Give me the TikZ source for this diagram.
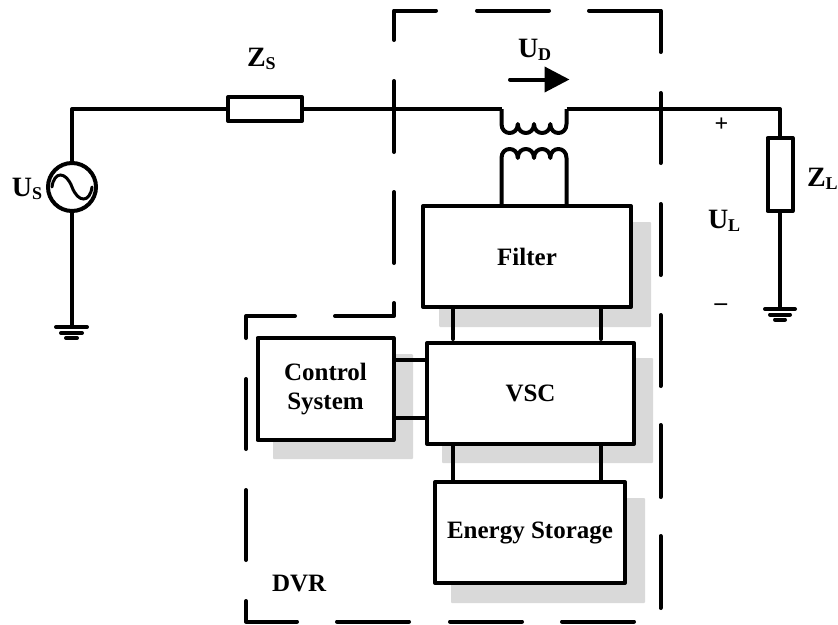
\documentclass[tikz,border=0pt]{standalone}
\usepackage{fontspec}
\setmainfont{Liberation Serif}
\usetikzlibrary{arrows.meta}
\definecolor{shadowgray}{HTML}{D9D9D9}
\newcommand{\lbl}[2]{\fontsize{28}{28}\selectfont\bfseries #1\raisebox{-3pt}{\fontsize{18}{18}\selectfont\bfseries #2}}
\tikzset{
  wire/.style={line width=4pt,line join=round},
  dashbit/.style={line width=4pt,line cap=round,line join=round},
  unit/.style={draw,fill=white,line width=4pt,line join=round,inner sep=0pt,outer sep=0pt,align=center,font=\fontsize{25}{29}\selectfont\bfseries},
  shade box/.style={fill=shadowgray,rounded corners=1pt},
  imped/.style={draw,fill=white,line width=4pt,line join=round,inner sep=0pt,outer sep=0pt},
  txt/.style={inner sep=0pt,outer sep=0pt,anchor=base west},
  gnd/.style={line width=4pt,line cap=round}
}
\begin{document}
\begin{tikzpicture}[x=1pt,y=-1pt]
\useasboundingbox (0,0) rectangle (838,624);
% shadows
\fill[shade box] (439,222) rectangle (651,327);
\fill[shade box] (442,358) rectangle (653,463);
\fill[shade box] (273,354) rectangle (413,459);
\fill[shade box] (451,498) rectangle (645,603);
% DVR dashed border
\draw[dashbit] (394,40) -- (394,10.5) -- (436,10.5);
\draw[dashbit] (477,10.5) -- (549,10.5);
\draw[dashbit] (589,10.5) -- (660.5,10.5) -- (660.5,52);
\draw[dashbit] (660.5,93) -- (660.5,163);
\draw[dashbit] (660.5,204) -- (660.5,275);
\draw[dashbit] (660.5,315) -- (660.5,386);
\draw[dashbit] (660.5,425) -- (660.5,497);
\draw[dashbit] (660.5,536) -- (660.5,608);
\draw[dashbit] (394,81) -- (394,152);
\draw[dashbit] (394,192) -- (394,263);
\draw[dashbit] (394,303) -- (394,316) -- (335,316);
\draw[dashbit] (295,316) -- (246,316) -- (246,338);
\draw[dashbit] (246,379) -- (246,449);
\draw[dashbit] (246,490) -- (246,560);
\draw[dashbit] (246,601) -- (246,621.5) -- (297,621.5);
\draw[dashbit] (337,621.5) -- (409,621.5);
\draw[dashbit] (450,621.5) -- (522,621.5);
\draw[dashbit] (562,621.5) -- (634,621.5);
% blocks
\node[unit,minimum width=208pt,minimum height=101pt] (filter) at (527,256.5) {Filter};
\node[unit,minimum width=207pt,minimum height=101pt] (vsc) at (530.5,393.5) {VSC};
\node[unit,minimum width=136pt,minimum height=102pt] (ctrl) at (325.5,389) {Control\\System};
\node[unit,minimum width=190pt,minimum height=101pt] (energy) at (530,532.5) {Energy Storage};
% impedances and source
\node[imped,minimum width=74pt,minimum height=24pt] (zs) at (265,109) {};
\node[imped,minimum width=25pt,minimum height=73pt] (zl) at (780,174.5) {};
\node[circle,draw,fill=white,line width=4pt,inner sep=0pt,outer sep=0pt,minimum size=48pt] (us) at (72,187) {};
\draw[line width=3pt,line cap=round] (52,187) .. controls (54,171) and (66,171) .. (72,187) .. controls (78,203) and (90,203) .. (92,187);
% coordinates
\coordinate (p1) at (501.5,109);
\coordinate (p2) at (566.5,109);
\coordinate (loadtop) at (780,109);
\coordinate (s1) at (501.5,206);
\coordinate (s2) at (566.5,206);
\coordinate (g1) at (72,327);
\coordinate (g2) at (780,309);
% wires
\draw[wire] (us.north) |- (zs.west);
\draw[wire] (zs.east) -- (p1);
\draw[wire] (p2) -- (loadtop) -- (zl.north);
\draw[wire] (us.south) -- (g1);
\draw[wire] (zl.south) -- (g2);
% transformer
\draw[wire] (p1) -- (501.5,124)
  .. controls (501.5,136) and (517.8,136) .. (517.8,124)
  .. controls (517.8,136) and (534,136) .. (534,124)
  .. controls (534,136) and (550.3,136) .. (550.3,124)
  .. controls (550.3,136) and (566.5,136) .. (566.5,124) -- (p2);
\draw[wire] (s1) -- (501.5,158)
  .. controls (501.5,146) and (517.8,146) .. (517.8,158)
  .. controls (517.8,146) and (534,146) .. (534,158)
  .. controls (534,146) and (550.3,146) .. (550.3,158)
  .. controls (550.3,146) and (566.5,146) .. (566.5,158) -- (s2);
% grounds
\draw[gnd] (56,327) -- (87,327);
\draw[gnd] (61,333) -- (82,333);
\draw[gnd] (66,338) -- (77,338);
\draw[gnd] (765,309) -- (795,309);
\draw[gnd] (770,314.5) -- (790,314.5);
\draw[gnd] (775,319.5) -- (785,319.5);
% block connectors
\draw[wire,line cap=round,shorten >=4pt] (453,307) -- (453,343);
\draw[wire,line cap=round,shorten >=4pt] (601,307) -- (601,343);
\draw[wire] (453,444) -- (453,482);
\draw[wire] (601,444) -- (601,482);
\draw[wire] (393.5,360) -- (427,360);
\draw[wire] (393.5,418) -- (427,418);
% voltage arrow
\coordinate (ua) at (510,79.5);
\coordinate (ub) at (569.5,79.5);
\draw[line width=4pt,line cap=round,-{Triangle[length=25pt,width=25pt]}] (ua) -- (ub);
% labels
\node[txt] (lzs) at (247,66) {\lbl{Z}{S}};
\node[txt] (lud) at (518,57) {\lbl{U}{D}};
\node[txt] (lus) at (12,196) {\lbl{U}{S}};
\node[txt] (lzl) at (807,186) {\lbl{Z}{L}};
\node[txt] (lul) at (708,228) {\lbl{U}{L}};
\node[txt,font=\fontsize{24}{24}\selectfont\bfseries] (plus) at (714.5,131) {+};
\node[txt,font=\fontsize{25}{25}\selectfont\bfseries] (minus) at (714.5,310) {–};
\node[txt,font=\fontsize{25}{25}\selectfont\bfseries] (dvr) at (272,591) {DVR};
\end{tikzpicture}
\end{document}
